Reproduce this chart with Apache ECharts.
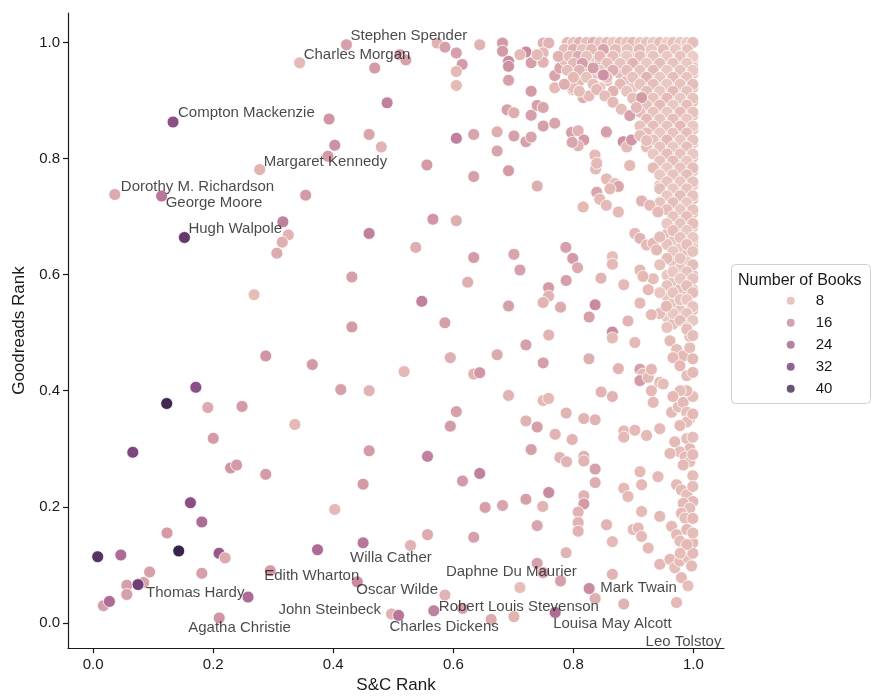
<!DOCTYPE html>
<html>
<head>
<meta charset="utf-8">
<script src="https://cdn.jsdelivr.net/npm/echarts@6/dist/echarts.min.js"></script>
<style>
  html, body { margin: 0; padding: 0; background: #fff; }
  #chart { width: 871px; height: 699px; }
</style>
</head>
<body>
<div id="chart"></div>
<script>
// each author: [S&C rank, Goodreads rank, number of books]
const leftAuthors = [
  [0.393,0.868,14],[0.4025,0.823,15],[0.391,0.804,13],[0.354,0.737,13],[0.316,0.691,18],
  [0.325,0.6685,8],[0.315,0.656,9],[0.306,0.637,10],[0.431,0.596,12],[0.268,0.5655,6],
  [0.431,0.510,13],[0.2875,0.460,14],[0.365,0.445,13],[0.171,0.406,28],[0.4125,0.402,12],
  [0.1225,0.378,40],[0.191,0.371,10],[0.248,0.373,13],[0.336,0.342,7],[0.200,0.318,13],
  [0.066,0.294,30],[0.229,0.267,14],[0.239,0.272,13],[0.2875,0.256,13],[0.4025,0.1955,7],
  [0.162,0.207,28],[0.181,0.174,22],[0.123,0.155,13],[0.1425,0.124,42],[0.0075,0.114,36],
  [0.046,0.117,22],[0.2097,0.120,26],[0.2197,0.112,10],[0.3737,0.126,22],[0.094,0.0878,12],
  [0.181,0.0855,12],[0.056,0.065,12],[0.084,0.0695,12],[0.056,0.049,12],[0.258,0.0445,22],
  [0.017,0.0296,12],[0.027,0.037,22]
];

const middleAuthors = [
  [0.469,0.956,13],[0.4897,0.896,18],[0.511,0.979,12],[0.521,0.970,12],[0.4597,0.8416,11],
  [0.480,0.820,8],[0.573,0.999,8],[0.586,0.992,12],[0.605,0.982,12],[0.6147,0.962,13],
  [0.605,0.950,7],[0.605,0.926,7],[0.644,0.996,8],[0.682,0.999,13],[0.682,0.985,13],
  [0.692,0.9675,16],[0.692,0.959,15],[0.692,0.935,12],[0.721,0.9836,16],[0.711,0.979,7],
  [0.7297,0.965,12],[0.7497,0.999,8],[0.759,0.999,8],[0.7497,0.982,7],[0.7497,0.966,8],
  [0.7397,0.979,7],[0.7297,0.916,13],[0.769,0.943,11],[0.7775,0.956,11],[0.7887,0.9675,10],
  [0.769,0.922,7],[0.605,0.835,18],[0.634,0.8416,11],[0.673,0.846,9],[0.701,0.839,12],
  [0.721,0.829,12],[0.7297,0.837,11],[0.7497,0.856,12],[0.769,0.861,11],[0.6897,0.884,12],
  [0.701,0.879,9],[0.7297,0.8746,12],[0.7397,0.8916,12],[0.7497,0.888,11],[0.556,0.789,13],
  [0.634,0.769,12],[0.692,0.779,13],[0.673,0.813,11],[0.7397,0.7526,9],[0.566,0.6955,14],
  [0.605,0.693,9],[0.797,0.845,12],[0.808,0.848,8],[0.8175,0.832,13],[0.808,0.822,8],
  [0.798,0.828,11],[0.837,0.804,8],[0.837,0.782,7],[0.855,0.844,7],[0.8163,0.7166,7],
  [0.799,0.919,8],[0.8163,0.905,9],[0.826,0.908,7],
  [0.4597,0.671,18],[0.5375,0.647,9],[0.634,0.6295,13],[0.701,0.635,11],[0.711,0.608,12],
  [0.7875,0.647,12],[0.799,0.628,13],[0.807,0.612,10],[0.865,0.631,6],[0.865,0.618,7],
  [0.624,0.587,9],[0.788,0.590,12],[0.846,0.594,8],[0.884,0.5826,7],[0.7587,0.5775,13],
  [0.7587,0.563,8],[0.7497,0.552,8],[0.5475,0.554,18],[0.692,0.546,12],[0.7787,0.544,10],
  [0.8363,0.548,16],[0.8263,0.527,12],[0.891,0.520,8],[0.586,0.517,12],[0.865,0.501,16],
  [0.865,0.491,7],[0.759,0.496,8],[0.721,0.479,12],[0.595,0.457,9],[0.673,0.462,10],
  [0.7497,0.448,12],[0.826,0.455,9],[0.875,0.438,8],[0.518,0.433,7],[0.634,0.4287,8],
  [0.644,0.431,14],[0.4597,0.400,8],[0.692,0.392,8],[0.7497,0.383,7],[0.7587,0.3866,7],
  [0.8463,0.398,8],[0.865,0.390,8],[0.605,0.364,12],[0.595,0.339,13],[0.721,0.348,8],
  [0.7397,0.3375,12],[0.788,0.3615,8],[0.8175,0.352,8],[0.8363,0.350,8],[0.7697,0.325,8],
  [0.798,0.316,8],[0.884,0.3307,7],[0.884,0.320,7],[0.4597,0.2965,13],[0.557,0.287,18],
  [0.7297,0.2987,12],[0.7775,0.285,8],[0.7887,0.2776,8],[0.8175,0.287,8],[0.8175,0.279,8],
  [0.8363,0.265,12],[0.8363,0.2417,9],[0.884,0.232,7],[0.891,0.2178,7],[0.4497,0.239,13],
  [0.6153,0.2446,13],[0.644,0.2576,18],[0.721,0.213,12],[0.759,0.2246,16],[0.749,0.2006,8],
  [0.653,0.199,12],[0.682,0.2024,11],[0.8175,0.219,8],[0.8175,0.205,13],[0.808,0.191,8],
  [0.808,0.173,8],[0.808,0.158,8],[0.7397,0.1676,11],[0.8553,0.169,8],[0.865,0.140,7],
  [0.557,0.152,10],[0.634,0.1476,12],[0.5287,0.1334,8],[0.788,0.121,8],[0.7397,0.1026,12],
  [0.7497,0.0866,12],[0.7787,0.0724,12],[0.865,0.0838,8],[0.711,0.0609,6],[0.8363,0.042,9],
  [0.6153,0.025,12],[0.663,0.006,10],[0.701,0.0108,8],[0.884,0.0325,8]
];

const denseAuthors = [
  [0.79,1.0,7],[0.80,1.0,5],[0.81,1.0,8],[0.822,1.0,6],[0.833,1.0,9],[0.844,1.0,5],[0.856,1.0,7],
  [0.866,1.0,4],[0.878,1.0,6],[0.889,1.0,5],[0.899,1.0,7],[0.911,1.0,4],[0.922,1.0,5],[0.933,1.0,4],
  [0.944,1.0,6],[0.956,1.0,3],[0.966,1.0,5],[0.978,1.0,4],[0.989,1.0,3],[0.999,1.0,6],
  [0.785,0.988,6],[0.80,0.988,9],[0.815,0.988,5],[0.83,0.988,7],[0.85,0.988,11],[0.87,0.988,6],
  [0.89,0.988,5],[0.91,0.988,7],[0.93,0.988,4],[0.95,0.988,6],[0.97,0.988,4],[0.99,0.988,5],
  [0.775,0.976,8],[0.793,0.976,6],[0.808,0.976,10],[0.822,0.976,5],[0.844,0.976,7],[0.866,0.976,6],
  [0.889,0.976,4],[0.911,0.976,6],[0.933,0.976,5],[0.956,0.976,4],[0.978,0.976,5],[0.999,0.976,3],
  [0.80,0.964,7],[0.815,0.964,12],[0.856,0.964,6],[0.878,0.964,5],[0.899,0.964,8],[0.922,0.964,4],
  [0.944,0.964,6],[0.966,0.964,5],[0.989,0.964,4],
  [0.79,0.952,6],[0.81,0.952,8],[0.844,0.952,5],[0.866,0.952,9],[0.889,0.952,6],[0.911,0.952,5],
  [0.933,0.952,7],[0.956,0.952,4],[0.978,0.952,5],[0.999,0.952,4],
  [0.80,0.940,7],[0.822,0.940,5],[0.856,0.940,6],[0.899,0.940,5],[0.922,0.940,8],[0.944,0.940,4],
  [0.966,0.940,6],[0.989,0.940,5],
  [0.785,0.928,9],[0.833,0.928,6],[0.878,0.928,7],[0.911,0.928,5],[0.933,0.928,6],[0.956,0.928,4],
  [0.978,0.928,5],[0.999,0.928,6],
  [0.81,0.916,6],[0.866,0.916,8],[0.889,0.916,5],[0.922,0.916,6],[0.944,0.916,4],[0.966,0.916,7],
  [0.989,0.916,5],
  [0.899,0.904,6],[0.933,0.904,5],[0.956,0.904,7],[0.978,0.904,4],[0.999,0.904,5],
  [0.922,0.892,5],[0.944,0.892,7],[0.966,0.892,4],[0.989,0.892,6],
  [0.911,0.880,6],[0.933,0.880,5],[0.956,0.880,4],[0.978,0.880,6],[0.999,0.880,5],
  [0.922,0.868,7],[0.944,0.868,5],[0.966,0.868,6],[0.989,0.868,4],
  [0.911,0.856,5],[0.933,0.856,6],[0.956,0.856,5],[0.978,0.856,7],[0.999,0.856,4],
  [0.922,0.844,6],[0.944,0.844,4],[0.966,0.844,5],[0.989,0.844,6],
  [0.933,0.832,5],[0.956,0.832,7],[0.978,0.832,4],[0.999,0.832,5],
  [0.922,0.820,6],[0.944,0.820,5],[0.966,0.820,4],[0.989,0.820,6],
  [0.933,0.808,4],[0.956,0.808,6],[0.978,0.808,5],[0.999,0.808,4],
  [0.944,0.796,5],[0.966,0.796,6],[0.989,0.796,4],
  [0.933,0.784,6],[0.956,0.784,4],[0.978,0.784,5],[0.999,0.784,6],
  [0.944,0.772,4],[0.966,0.772,5],[0.989,0.772,6],
  [0.956,0.760,5],[0.978,0.760,4],[0.999,0.760,5],
  [0.944,0.748,6],[0.966,0.748,4],[0.989,0.748,5],
  [0.956,0.736,4],[0.978,0.736,6],[0.999,0.736,5],
  [0.944,0.724,5],[0.966,0.724,6],[0.989,0.724,4],
  [0.956,0.712,6],[0.978,0.712,4],[0.999,0.712,5],
  [0.966,0.700,5],[0.989,0.700,6],
  [0.956,0.688,4],[0.978,0.688,5],[0.999,0.688,6],
  [0.966,0.676,6],[0.989,0.676,4],
  [0.978,0.664,5],[0.999,0.664,4],
  [0.956,0.652,5],[0.989,0.652,6],
  [0.966,0.640,4],[0.999,0.640,5],
  [0.956,0.628,6],[0.978,0.628,5],
  [0.944,0.617,5],[0.999,0.617,6],
  [0.966,0.605,4],[0.989,0.605,5],
  [0.933,0.593,6],[0.978,0.593,4],[0.999,0.593,5],
  [0.956,0.581,5],[0.989,0.581,6],
  [0.944,0.569,4],[0.966,0.569,5],[0.999,0.569,6],
  [0.978,0.557,5],[0.989,0.557,4],
  [0.999,0.545,5],
  [0.944,0.533,6],[0.966,0.533,4],[0.989,0.533,5],
  [0.978,0.521,6],[0.999,0.521,4],
  [0.956,0.509,5],[0.989,0.509,6],
  [0.833,0.956,12],[0.85,0.944,15],[0.839,0.919,7],[0.8525,0.908,6],[0.866,0.897,7],
  [0.880,0.885,6],[0.894,0.874,12],[0.9137,0.905,13],[0.905,0.888,7],[0.855,0.846,12],
  [0.883,0.829,15],[0.889,0.820,7],[0.897,0.832,14],[0.911,0.8395,6],[0.922,0.831,6],
  [0.836,0.806,7],[0.839,0.792,7],[0.894,0.788,7],[0.8553,0.765,7],[0.869,0.757,6],
  [0.875,0.752,11],[0.861,0.748,7],[0.839,0.742,11],[0.844,0.730,7],[0.855,0.7195,7],
  [0.875,0.708,7],[0.9137,0.727,8],[0.9275,0.7195,7],[0.941,0.708,7],[0.9025,0.671,7],
  [0.911,0.6625,8],[0.922,0.651,7],[0.933,0.654,7],[0.9387,0.6425,7],[0.944,0.665,6],
  [0.911,0.608,7],[0.916,0.597,7],[0.9247,0.574,7],[0.911,0.551,7],[0.930,0.531,7],
  [0.955,0.5456,7]
];

// the packed block in the top right corner, between the rows above
const denseFillAuthors = [
  [0.795,0.994,6],[0.82,0.994,4],[0.84,0.994,7],[0.86,0.994,5],[0.88,0.994,4],[0.90,0.994,6],
  [0.92,0.994,5],[0.94,0.994,4],[0.96,0.994,5],[0.98,0.994,4],
  [0.79,0.982,8],[0.808,0.982,5],[0.838,0.982,6],[0.86,0.982,4],[0.878,0.982,7],[0.90,0.982,5],
  [0.92,0.982,4],[0.94,0.982,5],[0.96,0.982,3],[0.98,0.982,5],
  [0.785,0.970,7],[0.83,0.970,5],[0.845,0.970,9],[0.868,0.970,5],[0.89,0.970,6],[0.91,0.970,4],
  [0.933,0.970,5],[0.956,0.970,4],[0.978,0.970,6],[0.999,0.970,4],
  [0.825,0.958,6],[0.87,0.958,5],[0.89,0.958,7],[0.911,0.958,4],[0.933,0.958,5],[0.956,0.958,6],
  [0.978,0.958,4],[0.999,0.958,5],
  [0.835,0.946,5],[0.878,0.946,6],[0.911,0.946,4],[0.933,0.946,5],[0.956,0.946,6],[0.978,0.946,4],
  [0.999,0.946,5],
  [0.81,0.934,7],[0.856,0.934,5],[0.889,0.934,6],[0.922,0.934,4],[0.944,0.934,5],[0.966,0.934,4],
  [0.989,0.934,6],
  [0.80,0.922,6],[0.844,0.922,5],[0.899,0.922,4],[0.933,0.922,6],[0.956,0.922,5],[0.978,0.922,4],
  [0.999,0.922,5],
  [0.922,0.910,5],[0.944,0.910,4],[0.966,0.910,6],[0.989,0.910,5],
  [0.911,0.898,4],[0.933,0.898,6],[0.956,0.898,5],[0.978,0.898,4],[0.999,0.898,6],
  [0.922,0.886,6],[0.944,0.886,5],[0.966,0.886,4],[0.989,0.886,5],
  [0.933,0.874,5],[0.956,0.874,6],[0.978,0.874,4],[0.999,0.874,5],
  [0.922,0.862,4],[0.944,0.862,6],[0.966,0.862,5],[0.989,0.862,4],
  [0.933,0.850,6],[0.956,0.850,4],[0.978,0.850,5],[0.999,0.850,6],
  [0.944,0.838,5],[0.966,0.838,4],[0.989,0.838,6],
  [0.933,0.826,4],[0.956,0.826,5],[0.978,0.826,6],[0.999,0.826,4],
  [0.944,0.814,6],[0.966,0.814,5],[0.989,0.814,4],
  [0.956,0.802,4],[0.978,0.802,6],[0.999,0.802,5],
  [0.944,0.790,5],[0.966,0.790,4],[0.989,0.790,6],
  [0.956,0.778,6],[0.978,0.778,5],[0.999,0.778,4],
  [0.966,0.766,4],[0.989,0.766,5],
  [0.944,0.754,5],[0.978,0.754,6],[0.999,0.754,4],
  [0.966,0.742,5],[0.989,0.742,4],
  [0.978,0.730,4],[0.999,0.730,6],
  [0.966,0.718,5],[0.989,0.718,4],
  [0.978,0.706,6],[0.999,0.706,5],
  [0.966,0.694,4],[0.989,0.694,5],
  [0.978,0.682,5],[0.999,0.682,4],
  [0.956,0.670,6],[0.989,0.670,5],
  [0.966,0.658,5],[0.999,0.658,6],
  [0.978,0.646,4],[0.999,0.646,5],
  [0.989,0.634,6],
  [0.966,0.622,5],[0.989,0.622,4],
  [0.978,0.611,5],
  [0.956,0.599,4],[0.999,0.599,6],
  [0.966,0.587,5],
  [0.978,0.575,6],[0.999,0.575,4],
  [0.956,0.563,5],[0.989,0.563,6],
  [0.966,0.551,4],
  [0.978,0.539,5],[0.999,0.539,6],
  [0.956,0.527,4],[0.989,0.527,5],
  [0.966,0.515,6]
];

const rightEdgeAuthors = [
  [0.9025,0.483,7],[0.911,0.437,12],[0.916,0.4287,7],[0.911,0.4174,13],[0.9247,0.423,7],
  [0.930,0.437,7],[0.944,0.4145,7],[0.9497,0.4116,6],[0.961,0.486,7],[0.972,0.471,6],
  [0.983,0.460,7],[0.994,0.474,6],[0.994,0.494,7],[0.989,0.506,6],[0.966,0.457,7],
  [0.9775,0.443,7],[0.989,0.426,6],[0.999,0.4316,7],[0.930,0.400,7],[0.933,0.380,7],
  [0.9637,0.363,7],[0.9747,0.372,6],[0.983,0.380,7],[0.989,0.363,6],[0.994,0.352,7],
  [0.989,0.346,6],[0.9775,0.340,7],[0.9025,0.332,7],[0.922,0.323,7],[0.944,0.3346,7],
  [0.969,0.312,7],[0.989,0.3175,6],[0.994,0.300,7],[0.9775,0.2947,6],[0.986,0.286,7],
  [0.994,0.2776,6],[0.983,0.272,7],[0.961,0.292,7],[0.911,0.2605,7],[0.9137,0.238,7],
  [0.941,0.252,7],[0.999,0.2536,6],[0.972,0.238,7],[0.980,0.229,7],[0.989,0.2207,6],
  [0.999,0.209,7],[0.983,0.206,7],[0.994,0.1977,6],[0.9137,0.192,7],[0.944,0.1835,7],
  [0.980,0.189,7],[0.986,0.1806,6],[0.8997,0.161,7],[0.908,0.1635,7],[0.9137,0.149,7],
  [0.9637,0.1664,7],[0.972,0.152,7],[0.9775,0.141,6],[0.999,0.138,7],[0.989,0.161,7],
  [0.9247,0.129,7],[0.944,0.101,7],[0.961,0.1095,7],[0.969,0.095,6],[0.9775,0.1066,7],
  [0.991,0.112,6],[0.997,0.098,7],[0.980,0.078,7],[0.991,0.0638,6],
  [0.999,0.495,6],[0.999,0.455,7],[0.999,0.39,6],[0.999,0.36,7],[0.999,0.32,6],
  [0.999,0.29,7],[0.999,0.235,6],[0.999,0.18,7],[0.999,0.155,6],[0.999,0.12,7],
  [0.989,0.40,7],[0.978,0.40,6],[0.966,0.39,7],[0.989,0.135,7],[0.978,0.12,6]
];

// [name, S&C rank, Goodreads rank, number of books]
const annotatedAuthors = [
  ['Stephen Spender', 0.422, 0.996, 12],
  ['Charles Morgan', 0.344, 0.965, 7],
  ['Compton Mackenzie', 0.133, 0.863, 28],
  ['Margaret Kennedy', 0.2775, 0.781, 8],
  ['Dorothy M. Richardson', 0.036, 0.738, 10],
  ['George Moore', 0.114, 0.7355, 20],
  ['Hugh Walpole', 0.152, 0.664, 34],
  ['Willa Cather', 0.4497, 0.138, 20],
  ['Edith Wharton', 0.295, 0.090, 13],
  ['Oscar Wilde', 0.440, 0.0707, 16],
  ['Daphne Du Maurier', 0.586, 0.048, 8],
  ['Thomas Hardy', 0.0747, 0.066, 32],
  ['John Steinbeck', 0.497, 0.0154, 8],
  ['Agatha Christie', 0.210, 0.0086, 14],
  ['Robert Louis Stevenson', 0.5675, 0.021, 18],
  ['Charles Dickens', 0.5087, 0.013, 20],
  ['Mark Twain', 0.8263, 0.0592, 16],
  ['Louisa May Alcott', 0.7697, 0.018, 22],
  ['Leo Tolstoy', 0.972, 0.035, 7]
];

const tickValues = [0, 0.2, 0.4, 0.6, 0.8, 1.0];
const legendBooks = [8, 16, 24, 32, 40];

// pixel nudges for the name texts (they were placed to avoid overlaps)
const labelNudge = {
  'Stephen Spender': [4, -9], 'Charles Morgan': [4, -8], 'Compton Mackenzie': [5, -9],
  'Margaret Kennedy': [4, -8], 'Dorothy M. Richardson': [6, -8], 'George Moore': [4, 7],
  'Hugh Walpole': [4, -9], 'Willa Cather': [-13, 15], 'Edith Wharton': [-6, 5],
  'Oscar Wilde': [-1, 8], 'Daphne Du Maurier': [1, -23], 'Thomas Hardy': [8, 8],
  'John Steinbeck': [-113, -4], 'Agatha Christie': [-31, 10], 'Robert Louis Stevenson': [5, -4],
  'Charles Dickens': [-9, 11], 'Mark Twain': [11, -1], 'Louisa May Alcott': [-2, 11],
  'Leo Tolstoy': [-31, 39]
};

const hueMin = 1, hueMax = 45;
const hueColors = ['#efd5cf', '#e3b8b5', '#d298a6', '#b8779a', '#96578a', '#6e3d74', '#452a57', '#2d1e3e'];
const FONT = 'Liberation Sans, Arial, sans-serif';
const INK = '#1a1a1a';

const chart = echarts.init(document.getElementById('chart'));

const allPoints = leftAuthors.concat(middleAuthors, denseFillAuthors, denseAuthors, rightEdgeAuthors,
  annotatedAuthors.map(a => [a[1], a[2], a[3]]));

const hueColor = v => echarts.color.lerp((v - hueMin) / (hueMax - hueMin), hueColors);

const legendSeries = legendBooks.map(b => ({
  name: String(b),
  type: 'scatter',
  data: [],
  itemStyle: { color: hueColor(b) }
}));

chart.setOption({
  animation: false,
  grid: { left: 68, right: 147, top: 13, bottom: 46 },
  xAxis: {
    type: 'value',
    min: -0.042, max: 1.051,
    name: 'S&C Rank',
    nameLocation: 'middle',
    nameGap: 27,
    nameTextStyle: { fontSize: 17, color: INK, fontFamily: FONT },
    splitLine: { show: false },
    axisLine: { onZero: false, lineStyle: { color: INK, width: 1.2 } },
    axisTick: { customValues: tickValues, length: 5, lineStyle: { color: INK, width: 1.2 } },
    axisLabel: { customValues: tickValues, margin: 9, fontSize: 15, color: INK, fontFamily: FONT,
      formatter: v => v.toFixed(1) }
  },
  yAxis: {
    type: 'value',
    min: -0.0434, max: 1.0508,
    name: 'Goodreads Rank',
    nameLocation: 'middle',
    nameGap: 40,
    nameTextStyle: { fontSize: 17, color: INK, fontFamily: FONT },
    splitLine: { show: false },
    axisLine: { onZero: false, lineStyle: { color: INK, width: 1.2 } },
    axisTick: { customValues: tickValues, length: 5, lineStyle: { color: INK, width: 1.2 } },
    axisLabel: { customValues: tickValues, margin: 8, fontSize: 15, color: INK, fontFamily: FONT,
      formatter: v => v.toFixed(1) }
  },
  visualMap: {
    type: 'continuous',
    show: false,
    seriesIndex: 0,
    dimension: 2,
    min: hueMin, max: hueMax,
    inRange: { color: hueColors }
  },
  legend: {
    orient: 'vertical',
    left: 786.7,
    top: 292.7,
    padding: 0,
    itemWidth: 8,
    itemHeight: 8,
    itemGap: 6,
    icon: 'circle',
    data: legendBooks.map(String),
    textStyle: { fontSize: 15, color: INK, fontFamily: FONT, lineHeight: 16, padding: [0, 0, 0, 16] }
  },
  graphic: [
    {
      type: 'rect', left: 731, top: 264, z: -1,
      shape: { width: 139, height: 139, r: 4 },
      style: { fill: '#fff', stroke: '#cfcfcf', lineWidth: 1 }
    },
    {
      type: 'text', left: 738, top: 273,
      style: { text: 'Number of Books', fontSize: 16, fill: INK, font: '16px ' + FONT }
    }
  ],
  series: [
    {
      type: 'scatter',
      data: allPoints,
      symbolSize: 12,
      itemStyle: { borderColor: '#fff', borderWidth: 0.8, opacity: 1 },
      emphasis: { disabled: true }
    },
    {
      type: 'scatter',
      symbolSize: 1,
      z: 5,
      itemStyle: { color: 'rgba(0,0,0,0)' },
      emphasis: { disabled: true },
      data: annotatedAuthors.map(a => ({
        name: a[0],
        value: [a[1], a[2]],
        label: { offset: labelNudge[a[0]] }
      })),
      label: {
        show: true,
        position: 'inside',
        align: 'left',
        verticalAlign: 'middle',
        formatter: p => p.name,
        fontSize: 15,
        color: INK,
        fontFamily: FONT
      }
    }
  ].concat(legendSeries)
});
</script>
</body>
</html>
